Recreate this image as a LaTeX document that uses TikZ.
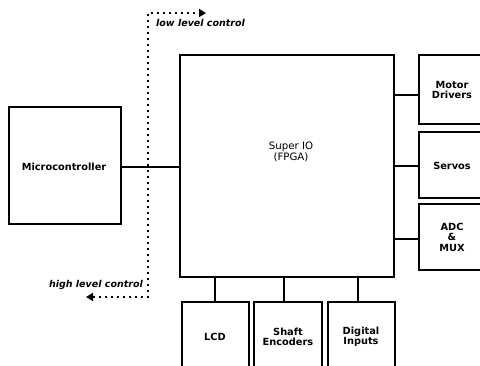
\documentclass[tikz,border=0pt]{standalone}
\usepackage{fontspec}
\setmainfont{DejaVu Sans}
\usetikzlibrary{arrows.meta}
\begin{document}
\begin{tikzpicture}[x=1pt,y=-1pt,
  blk/.style={draw=black,line width=1.5pt,fill=none},
  lbl/.style={font=\fontsize{9.8}{10.5}\selectfont\bfseries,align=center,inner sep=0pt},
  conn/.style={line width=1.5pt},
  ctl/.style={line width=2.3pt,dash pattern=on 2.3pt off 3.7pt,{Triangle[length=7pt,width=8pt]}-{Triangle[length=7pt,width=8pt]}},
  ctltext/.style={font=\fontsize{9.5}{9.5}\selectfont\bfseries\itshape,inner sep=0pt}]
\useasboundingbox (0,0) rectangle (480,365);
\clip (0,0) rectangle (480,365);
% boxes
\draw[blk] (9,107) rectangle (121,224);
\coordinate (mcE) at (121,167);
\node[lbl] (mc) at (64,167) {Microcontroller};
\draw[blk] (180,55) rectangle (394,277);
\node[lbl,font=\fontsize{10.2}{9.5}\selectfont] (sio) at (291,152) {Super IO\\(FPGA)};
\coordinate (sioW) at (180,167);
% right boxes
\draw[blk] (419,55) rectangle (487,124);
\node[lbl] (md) at (452,90) {Motor\\Drivers};
\draw[blk] (419,132) rectangle (487,198);
\node[lbl] (sv) at (452,166) {Servos};
\draw[blk] (419,204) rectangle (487,270);
\node[lbl] (adc) at (452,237) {ADC\\\&\\MUX};
% bottom boxes
\draw[blk] (182,302) rectangle (249,375);
\node[lbl] (lcd) at (215,337) {LCD};
\draw[blk] (254,302) rectangle (322,375);
\node[lbl] (se) at (288,337) {Shaft\\Encoders};
\draw[blk] (328,302) rectangle (395,375);
\node[lbl] (di) at (361,337) {Digital\\Inputs};
% connectors
\draw[conn] (mcE) -- (sioW);
\coordinate (r1a) at (394,95); \coordinate (r1b) at (419,95);
\coordinate (r2a) at (394,166); \coordinate (r2b) at (419,166);
\coordinate (r3a) at (394,239); \coordinate (r3b) at (419,239);
\draw[conn] (r1a) -- (r1b);
\draw[conn] (r2a) -- (r2b);
\draw[conn] (r3a) -- (r3b);
\coordinate (b1a) at (215,277); \coordinate (b1b) at (215,302);
\coordinate (b2a) at (284,277); \coordinate (b2b) at (284,302);
\coordinate (b3a) at (358,277); \coordinate (b3b) at (358,302);
\draw[conn] (b1a) -- (b1b);
\draw[conn] (b2a) -- (b2b);
\draw[conn] (b3a) -- (b3b);
% control arrows
\coordinate (ctop) at (148,13);
\coordinate (cbot) at (148,297);
\coordinate (ltip) at (206,13);
\coordinate (htip) at (86,297);
\draw[ctl] (htip) -- (cbot) -- (ctop) -- (ltip);
\node[ctltext,anchor=west] (llc) at (156,23) {low level control};
\node[ctltext,anchor=east] (hlc) at (143,285) {high level control};
\end{tikzpicture}
\end{document}
